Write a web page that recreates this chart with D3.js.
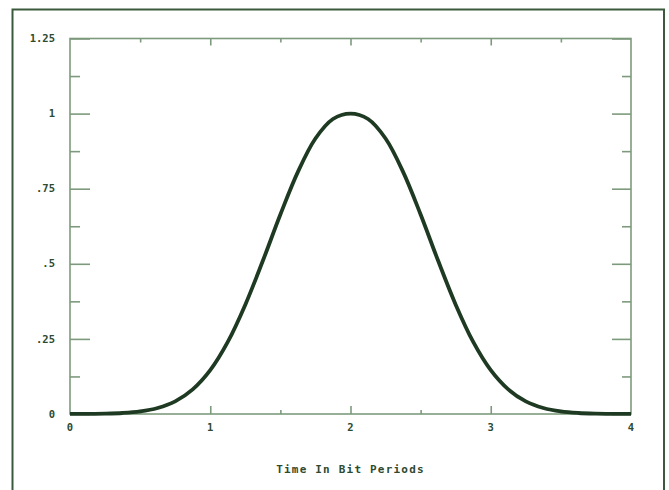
<!DOCTYPE html>
<html>
<head>
<meta charset="utf-8">
<script src="https://cdn.jsdelivr.net/npm/d3@7"></script>
<style>
  html, body { margin: 0; padding: 0; background: #ffffff; }
  svg { display: block; }
</style>
</head>
<body>
<svg id="chart" width="669" height="490"></svg>
<script>
// Pulse response sampled every 1/8 bit period
const times = [0, 0.125, 0.25, 0.375, 0.5, 0.625, 0.75, 0.875, 1, 1.125, 1.25, 1.375, 1.5, 1.625, 1.75, 1.875,
               2, 2.125, 2.25, 2.375, 2.5, 2.625, 2.75, 2.875, 3, 3.125, 3.25, 3.375, 3.5, 3.625, 3.75, 3.875, 4];
const amplitude = [0.0001, 0.0004, 0.0012, 0.0034, 0.0086, 0.020, 0.042, 0.082, 0.146, 0.240, 0.364, 0.510, 0.664, 0.806, 0.917, 0.982,
                   1.0, 0.982, 0.917, 0.806, 0.664, 0.510, 0.364, 0.240, 0.146, 0.082, 0.042, 0.020, 0.0086, 0.0034, 0.0012, 0.0004, 0.0001];

const yTickValues = [0, 0.25, 0.5, 0.75, 1, 1.25];
const yTickLabels = ["0", ".25", ".5", ".75", "1", "1.25"];
const yMinorValues = [0.125, 0.375, 0.625, 0.875, 1.125];
const xTickValues = [0, 1, 2, 3, 4];
const xTickLabels = ["0", "1", "2", "3", "4"];
const xMinorValues = [0.5, 1.5, 2.5, 3.5];
const xTitle = "Time In Bit Periods";

const svg = d3.select("#chart");
const plotLeft = 70, plotRight = 631, plotTop = 38.5, plotBottom = 414;

const x = d3.scaleLinear().domain([0, 4]).range([plotLeft, plotRight]);
const y = d3.scaleLinear().domain([0, 1.25]).range([plotBottom, plotTop]);

const axisColor = "#7d9a7d";
const textColor = "#2e4a30";
const frameColor = "#3b5a3d";

// Outer page frame
svg.append("path")
  .attr("d", "M12.5,490 L12.5,9.5 L664,9.5 L664,490")
  .attr("fill", "none")
  .attr("stroke", frameColor)
  .attr("stroke-width", 2);

// Plot box
svg.append("rect")
  .attr("x", plotLeft).attr("y", plotTop)
  .attr("width", plotRight - plotLeft).attr("height", plotBottom - plotTop)
  .attr("fill", "none")
  .attr("stroke", axisColor)
  .attr("stroke-width", 1.6);

// Ticks on all four sides, pointing into the plot
const leftAxis = d3.axisRight(y).tickValues(yTickValues).tickSize(20).tickFormat("");
const leftMinor = d3.axisRight(y).tickValues(yMinorValues).tickSize(10).tickFormat("");
const rightAxis = d3.axisLeft(y).tickValues(yTickValues).tickSize(19).tickFormat("");
const rightMinor = d3.axisLeft(y).tickValues(yMinorValues).tickSize(9).tickFormat("");
const bottomAxis = d3.axisTop(x).tickValues(xTickValues.slice(1, -1)).tickSize(8).tickFormat("");
const bottomMinor = d3.axisTop(x).tickValues(xMinorValues).tickSize(4).tickFormat("");
const topAxis = d3.axisBottom(x).tickValues(xTickValues.slice(1, -1)).tickSize(7).tickFormat("");
const topMinor = d3.axisBottom(x).tickValues(xMinorValues).tickSize(4).tickFormat("");

function drawAxis(axis, tx, ty) {
  const g = svg.append("g").attr("transform", `translate(${tx},${ty})`).call(axis);
  g.select(".domain").remove();
  g.selectAll(".tick line").attr("stroke", axisColor).attr("stroke-width", 1.6);
  return g;
}
drawAxis(leftAxis, plotLeft, 0);
drawAxis(leftMinor, plotLeft, 0);
drawAxis(rightAxis, plotRight, 0);
drawAxis(rightMinor, plotRight, 0);
drawAxis(bottomAxis, 0, plotBottom);
drawAxis(bottomMinor, 0, plotBottom);
drawAxis(topAxis, 0, plotTop);
drawAxis(topMinor, 0, plotTop);

// Y tick labels
svg.append("g").selectAll("text")
  .data(yTickValues)
  .join("text")
  .attr("x", 55)
  .attr("y", d => y(d))
  .attr("dy", "0.35em")
  .attr("text-anchor", "end")
  .attr("font-family", "'DejaVu Sans Mono', monospace")
  .attr("font-weight", "bold")
  .attr("font-size", 10.5)
  .attr("fill", textColor)
  .text((d, i) => yTickLabels[i]);

// X tick labels
svg.append("g").selectAll("text")
  .data(xTickValues)
  .join("text")
  .attr("x", d => x(d))
  .attr("y", 427)
  .attr("dy", "0.35em")
  .attr("text-anchor", "middle")
  .attr("font-family", "'DejaVu Sans Mono', monospace")
  .attr("font-weight", "bold")
  .attr("font-size", 10.5)
  .attr("fill", textColor)
  .text((d, i) => xTickLabels[i]);

// X axis title
svg.append("text")
  .attr("x", x(2))
  .attr("y", 469)
  .attr("dy", "0.35em")
  .attr("text-anchor", "middle")
  .attr("font-family", "'DejaVu Sans Mono', monospace")
  .attr("font-weight", "bold")
  .attr("font-size", 11)
  .attr("letter-spacing", 1.2)
  .attr("fill", textColor)
  .text(xTitle);

// Pulse curve
const line = d3.line()
  .x((d, i) => x(times[i]))
  .y(d => y(d))
  .curve(d3.curveCatmullRom.alpha(0.5));

svg.append("path")
  .datum(amplitude)
  .attr("d", line)
  .attr("fill", "none")
  .attr("stroke", "#1f3a22")
  .attr("stroke-width", 3.8)
  .attr("stroke-linejoin", "round");
</script>
</body>
</html>
